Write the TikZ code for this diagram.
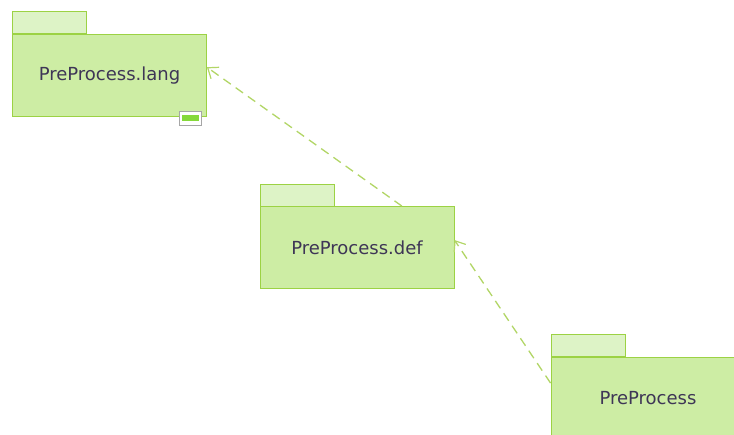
\documentclass[tikz,border=0pt]{standalone}
\usepackage{fontspec}
\setmainfont{DejaVu Sans}
\usetikzlibrary{arrows.meta,calc}
\definecolor{pkgfill}{HTML}{CDEDA4}
\definecolor{tabfill}{HTML}{DDF3C6}
\definecolor{pkgline}{HTML}{9CD244}
\definecolor{deptline}{HTML}{B2D666}
\definecolor{pkgtext}{HTML}{3E3656}
\tikzset{
  pkgbody/.style={draw=pkgline, line width=0.9pt, fill=pkgfill, inner sep=0pt,
    minimum width=194pt, minimum height=82pt, text=pkgtext,
    font=\fontsize{18}{21}\selectfont},
  pkgtab/.style={draw=pkgline, line width=0.9pt, fill=tabfill, inner sep=0pt,
    minimum width=74pt, minimum height=22pt, anchor=south west},
  dep/.style={draw=deptline, line width=1.3pt, dash pattern=on 9pt off 6pt,
    -{Straight Barb[length=9pt,width=14pt,line width=1.2pt]}}
}
\begin{document}
\begin{tikzpicture}[x=1pt,y=-1pt]
  \useasboundingbox[fill=white] (0,0) rectangle (734,435);
  \begin{scope}
    \clip (0,0) rectangle (734,435);
    % PreProcess.lang
    \node[pkgtab] (langtab) at (12,34) {};
    \node[pkgbody] (lang) at (109.5,75.5) {PreProcess.lang};
    % small icon in the corner of the package
    \node[draw=black!35, fill=white, line width=0.5pt, inner sep=0pt,
      minimum width=22pt, minimum height=14pt] (langicon) at (190.5,118.5) {};
    \fill[pkgline!85!green] ($(langicon.center)+(-8.5,-3)$) rectangle ($(langicon.center)+(8.5,3)$);
    % PreProcess.def
    \node[pkgtab] (deftab) at (260,207) {};
    \node[pkgbody] (def) at (357,247.5) {PreProcess.def};
    % PreProcess
    \node[pkgtab] (pptab) at (551,357) {};
    \node[pkgbody] (pp) at (648,398) {PreProcess};
    % dependencies
    \draw[dep] ($(def.north west)!0.73!(def.north east)$) -- ($(lang.north east)!0.4!(lang.south east)$);
    \draw[dep] ($(pp.north west)!0.32!(pp.south west)$) -- ($(def.north east)!0.41!(def.south east)$);
  \end{scope}
\end{tikzpicture}
\end{document}
